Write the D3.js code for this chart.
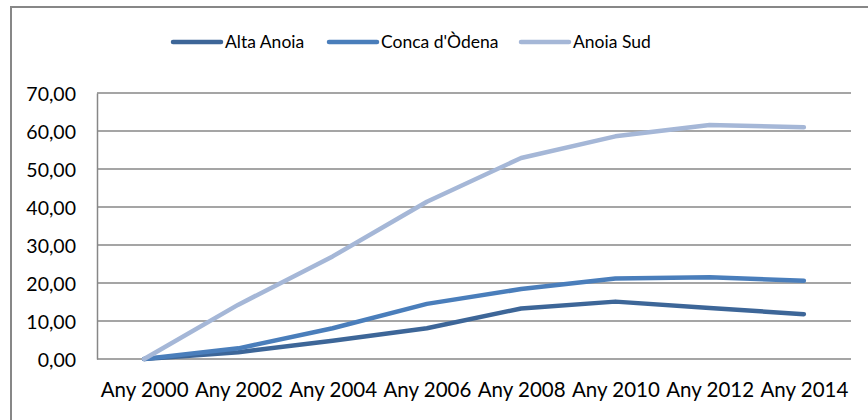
<!DOCTYPE html>
<html><head><meta charset="utf-8">
<script src="https://cdn.jsdelivr.net/npm/d3@7"></script>
<style>body{margin:0;background:#fff}svg{display:block}</style>
</head><body><div id="chart"></div>
<script>
const categories = ["Any 2000","Any 2002","Any 2004","Any 2006","Any 2008","Any 2010","Any 2012","Any 2014"];
const seriesNames = ["Alta Anoia","Conca d'Òdena","Anoia Sud"];
const altaAnoia = [0, 1.8, 4.8, 8.1, 13.3, 15.1, 13.4, 11.8];
const concaOdena = [0, 2.8, 8.1, 14.5, 18.4, 21.2, 21.5, 20.6];
const anoiaSud = [0, 14.3, 27.0, 41.4, 52.9, 58.6, 61.6, 61.0];
const yTicks = [0,10,20,30,40,50,60,70];
const colors = ["#3d6698","#4a7ebb","#a5b7d7"];

(function(){
const W = 868, H = 420;
const svg = d3.select("#chart").append("svg").attr("width", W).attr("height", H);
const font = "Lato, 'Open Sans', sans-serif";

// outer border (top and left visible)
svg.append("path").attr("d", `M11,${H} L11,7 L${W},7`).attr("fill","none").attr("stroke","#878787").attr("stroke-width",2);

const mLeft = 97, mRight = 851, mTop = 93, mBottom = 359;
const x = d3.scalePoint().domain(categories).range([mLeft, mRight]).padding(0.5);
const y = d3.scaleLinear().domain([0, 70]).range([mBottom, mTop]);

// gridlines
svg.append("g").selectAll("line").data(yTicks).join("line")
  .attr("x1", mLeft).attr("x2", mRight).attr("y1", d => y(d)).attr("y2", d => y(d))
  .attr("stroke", "#878787").attr("stroke-width", 1.5);

// y axis
const yAxis = d3.axisLeft(y).tickValues(yTicks).tickSize(0).tickPadding(8)
  .tickFormat(d => d3.format(".2f")(d).replace(".", ","));
const gy = svg.append("g").attr("transform", `translate(${mLeft},0)`).call(yAxis);
gy.select(".domain").attr("stroke", "#878787").attr("stroke-width", 1.5);
gy.selectAll("text").attr("font-family", font).attr("font-size", 19.5).attr("fill", "#000").attr("dy","0.36em").attr("x",-21);

// x axis
const xAxis = d3.axisBottom(x).tickSize(0);
const gx = svg.append("g").attr("transform", `translate(0,${mBottom})`).call(xAxis);
gx.select(".domain").remove();
gx.selectAll("text").attr("font-family", font).attr("font-size", 20.5).attr("fill", "#000").attr("y", 38).attr("dy","0");

const allSeries = [altaAnoia, concaOdena, anoiaSud];
const line = d3.line().x((d,i) => x(categories[i])).y(d => y(d));
allSeries.forEach((s, k) => {
  svg.append("path").datum(s).attr("d", line).attr("fill","none")
    .attr("stroke", colors[k]).attr("stroke-width", 4.5)
    .attr("stroke-linecap","round").attr("stroke-linejoin","round");
});

// legend
const legendX = [173, 329, 521];
const lg = svg.append("g");
seriesNames.forEach((n, k) => {
  lg.append("line").attr("x1", legendX[k]).attr("x2", legendX[k]+48).attr("y1", 42).attr("y2", 42)
    .attr("stroke", colors[k]).attr("stroke-width", 4.5).attr("stroke-linecap","round");
  lg.append("text").attr("x", legendX[k]+52).attr("y", 42).attr("dy","0.35em")
    .attr("font-family", font).attr("font-size", 17.5).attr("fill","#000").text(n);
});
})();
</script></body></html>
